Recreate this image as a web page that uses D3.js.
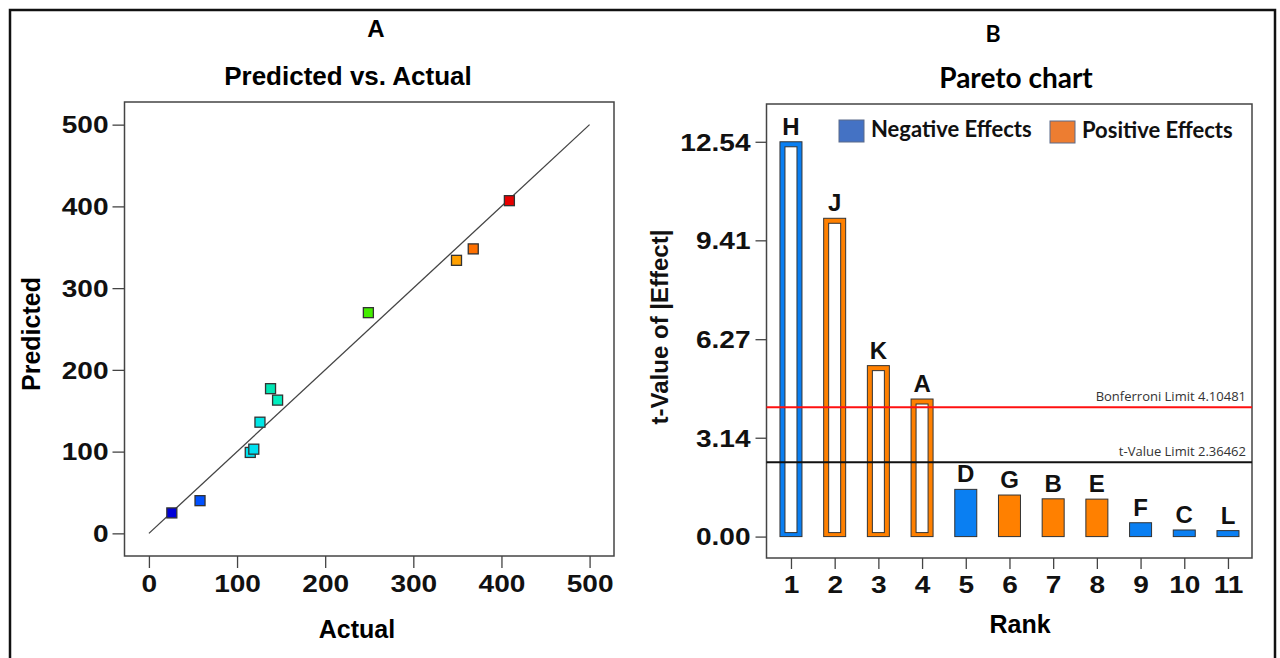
<!DOCTYPE html>
<html>
<head>
<meta charset="utf-8">
<script src="https://cdn.jsdelivr.net/npm/d3@7"></script>
<style>
  body { margin: 0; background: #fff; }
  svg { display: block; }
  .tick text { font-family: Arial, 'Liberation Sans', sans-serif; font-weight: bold; }
</style>
</head>
<body>
<div id="chart"></div>
<script>
// Panel A: predicted vs actual
const actual    = [26, 58, 115, 119, 126, 138, 146, 249, 349, 368, 409];
const predicted = [25, 40, 99, 103, 136, 177, 163, 270, 334, 348, 407];
const pointColors = ['#0000d8', '#0050ff', '#00e4f0', '#00e0f0', '#00e6e6', '#00e6b4', '#00eebe', '#44ee00', '#ffa000', '#ff7000', '#e80000'];
const axisTicksA = [0, 100, 200, 300, 400, 500];

// Panel B: pareto chart
const ranks = [1, 2, 3, 4, 5, 6, 7, 8, 9, 10, 11];
const effectNames = ['H', 'J', 'K', 'A', 'D', 'G', 'B', 'E', 'F', 'C', 'L'];
const tValues = [12.54, 10.11, 5.43, 4.37, 1.50, 1.32, 1.20, 1.19, 0.44, 0.21, 0.19];
const effectSign = ['neg', 'pos', 'pos', 'pos', 'neg', 'pos', 'pos', 'pos', 'neg', 'neg', 'neg'];
const yTicksB = [0, 3.14, 6.27, 9.41, 12.54];
const bonferroniLimit = 4.10481;
const tValueLimit = 2.36462;

const width = 1280, height = 658;
const svg = d3.select('#chart').append('svg')
  .attr('width', width)
  .attr('height', height);

// outer frame (no bottom edge)
svg.append('path')
  .attr('d', 'M10,' + (height + 5) + 'V10H1275V' + (height + 5))
  .attr('fill', 'none')
  .attr('stroke', '#111')
  .attr('stroke-width', 2.5);

const bold = "Arial, 'Liberation Sans', sans-serif";
const calib = "Lato, 'Open Sans', sans-serif";
const stretch = 1.22;

// tick labels in the original are drawn wide, so stretch them sideways
function styleAxis(ax, side) {
  ax.select('.domain').remove();
  ax.selectAll('.tick line').attr('stroke', '#444').attr('stroke-width', 1.3);
  const t = ax.selectAll('.tick text').style('font-size', '23px').attr('fill', '#111');
  if (side === 'left') {
    t.each(function () {
      const x = +d3.select(this).attr('x');
      d3.select(this).attr('x', 0).attr('dy', '0.36em')
        .attr('transform', 'translate(' + x + ',0) scale(' + stretch + ',1)');
    });
  } else {
    t.attr('transform', 'scale(' + stretch + ',1)');
  }
}

// ---------- Panel A ----------
const xA = d3.scaleLinear().domain([-27.7, 527.7]).range([124.5, 614]);
const yA = d3.scaleLinear().domain([-27.7, 527.7]).range([556, 102]);

const gA = svg.append('g');

gA.append('text').attr('x', 376).attr('y', 37).attr('text-anchor', 'middle')
  .style('font', 'bold 24px ' + bold).text('A');
gA.append('text').attr('x', 348).attr('y', 85).attr('text-anchor', 'middle')
  .style('font', 'bold 26px ' + bold).text('Predicted vs. Actual');

gA.append('rect')
  .attr('x', xA.range()[0]).attr('y', yA.range()[1])
  .attr('width', xA.range()[1] - xA.range()[0])
  .attr('height', yA.range()[0] - yA.range()[1])
  .attr('fill', 'none').attr('stroke', '#444').attr('stroke-width', 1.5);

const xAxisA = gA.append('g')
  .attr('transform', 'translate(0,' + yA.range()[0] + ')')
  .call(d3.axisBottom(xA).tickValues(axisTicksA).tickSize(12).tickPadding(8));
const yAxisA = gA.append('g')
  .attr('transform', 'translate(' + xA.range()[0] + ',0)')
  .call(d3.axisLeft(yA).tickValues(axisTicksA).tickSize(12).tickPadding(4));
styleAxis(xAxisA, 'bottom');
styleAxis(yAxisA, 'left');

gA.append('text').attr('x', 357).attr('y', 638).attr('text-anchor', 'middle')
  .style('font', 'bold 25px ' + bold).text('Actual');
gA.append('text').attr('transform', 'translate(40,334) rotate(-90)').attr('text-anchor', 'middle')
  .style('font', 'bold 25px ' + bold).text('Predicted');

gA.append('line')
  .attr('x1', xA(0)).attr('y1', yA(0))
  .attr('x2', xA(500)).attr('y2', yA(500))
  .attr('stroke', '#444').attr('stroke-width', 1.3);

const sq = 10;
gA.selectAll('rect.pt')
  .data(actual)
  .join('rect')
  .attr('class', 'pt')
  .attr('x', (d, i) => xA(d) - sq / 2)
  .attr('y', (d, i) => yA(predicted[i]) - sq / 2)
  .attr('width', sq).attr('height', sq)
  .attr('fill', (d, i) => pointColors[i])
  .attr('stroke', '#333').attr('stroke-width', 1.3);

// ---------- Panel B ----------
const xB = d3.scaleLinear().domain([0.44, 11.55]).range([766.5, 1252]);
const yB = d3.scaleLinear().domain([-0.68, 13.74]).range([558, 104]);
const barColors = { neg: '#0a7ff2', pos: '#ff8000' };
const legendColors = { neg: '#4472c4', pos: '#ed7d31' };

const gB = svg.append('g');

gB.append('text').attr('x', 993).attr('y', 42).attr('text-anchor', 'middle')
  .style('font', 'bold 23px ' + calib).text('B');
gB.append('text').attr('x', 1016).attr('y', 88).attr('text-anchor', 'middle')
  .style('font', 'bold 28px ' + calib).text('Pareto chart');

gB.append('rect')
  .attr('x', xB.range()[0]).attr('y', yB.range()[1])
  .attr('width', xB.range()[1] - xB.range()[0])
  .attr('height', yB.range()[0] - yB.range()[1])
  .attr('fill', 'none').attr('stroke', '#444').attr('stroke-width', 1.5);

const xAxisB = gB.append('g')
  .attr('transform', 'translate(0,' + yB.range()[0] + ')')
  .call(d3.axisBottom(xB).tickValues(ranks).tickSize(11).tickPadding(8).tickFormat(d3.format('d')));
const yAxisB = gB.append('g')
  .attr('transform', 'translate(' + xB.range()[0] + ',0)')
  .call(d3.axisLeft(yB).tickValues(yTicksB).tickSize(11).tickPadding(5).tickFormat(d3.format('.2f')));
styleAxis(xAxisB, 'bottom');
styleAxis(yAxisB, 'left');

gB.append('text').attr('x', 1020).attr('y', 633).attr('text-anchor', 'middle')
  .style('font', 'bold 25px ' + bold).text('Rank');
gB.append('text').attr('transform', 'translate(668,327) rotate(-90)').attr('text-anchor', 'middle')
  .style('font', 'bold 24px ' + bold).attr('fill', '#111').text('t-Value of |Effect|');

const bw = 22, inset = 5;
const bars = gB.selectAll('g.bar')
  .data(tValues)
  .join('g')
  .attr('class', 'bar');

bars.append('rect')
  .attr('x', (d, i) => xB(ranks[i]) - bw / 2)
  .attr('y', d => yB(d))
  .attr('width', bw)
  .attr('height', d => yB(0) - yB(d))
  .attr('fill', (d, i) => barColors[effectSign[i]])
  .attr('stroke', '#333').attr('stroke-width', 1);

// significant effects drawn hollow
bars.filter(d => d > tValueLimit)
  .append('rect')
  .attr('x', d => xB(ranks[tValues.indexOf(d)]) - bw / 2 + inset)
  .attr('y', d => yB(d) + inset)
  .attr('width', bw - 2 * inset)
  .attr('height', d => yB(0) - yB(d) - 2 * inset + 1)
  .attr('fill', '#fff')
  .attr('stroke', '#333').attr('stroke-width', 1);

bars.append('text')
  .attr('x', (d, i) => xB(ranks[i]))
  .attr('y', d => yB(d) - 7)
  .attr('text-anchor', 'middle')
  .style('font', 'bold 24px ' + bold)
  .attr('fill', '#111')
  .text((d, i) => effectNames[i]);

// limit lines
const limits = [
  { v: bonferroniLimit, color: '#ff1010', label: 'Bonferroni Limit ' + bonferroniLimit },
  { v: tValueLimit, color: '#111', label: 't-Value Limit ' + tValueLimit }
];
limits.forEach(l => {
  gB.append('line')
    .attr('x1', xB.range()[0]).attr('x2', xB.range()[1])
    .attr('y1', yB(l.v)).attr('y2', yB(l.v))
    .attr('stroke', l.color).attr('stroke-width', 2);
  gB.append('text')
    .attr('x', xB.range()[1] - 6).attr('y', yB(l.v) - 6)
    .attr('text-anchor', 'end')
    .style('font', "13px 'Open Sans', sans-serif")
    .attr('fill', '#333')
    .text(l.label);
});

// legend
const legend = [
  { key: 'neg', label: 'Negative Effects', x: 839, y: 120 },
  { key: 'pos', label: 'Positive Effects', x: 1050, y: 121 }
];
legend.forEach(l => {
  gB.append('rect')
    .attr('x', l.x).attr('y', l.y).attr('width', 25).attr('height', 22)
    .attr('fill', legendColors[l.key])
    .attr('stroke', '#5a6a8a').attr('stroke-width', 1);
  gB.append('text')
    .attr('x', l.x + 32).attr('y', l.y + 17)
    .style('font', 'bold 22px ' + calib)
    .attr('fill', '#111')
    .text(l.label);
});
</script>
</body>
</html>
